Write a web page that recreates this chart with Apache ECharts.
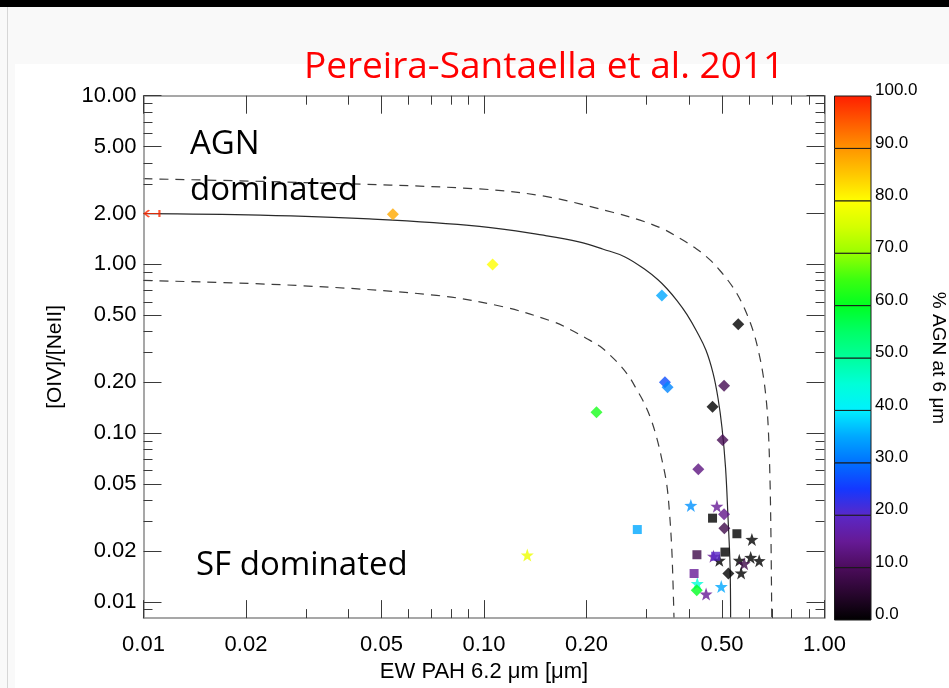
<!DOCTYPE html>
<html>
<head>
<meta charset="utf-8">
<script src="https://cdn.jsdelivr.net/npm/echarts@6/dist/echarts.min.js"></script>
<style>
  html, body { margin: 0; padding: 0; background: #f9f9f9; }
  #chart { width: 949px; height: 688px; }
</style>
</head>
<body>
<div id="chart"></div>
<script>
// Diagnostic diagram: EW of the 6.2 um PAH feature vs [OIV]/[NeII] ratio,
// markers coloured by the AGN contribution at 6 um.

// Diamonds
const diamondEW    = [0.054, 0.106, 0.333, 0.340, 0.346, 0.214, 0.558, 0.507, 0.469, 0.502, 0.426, 0.507, 0.508, 0.522, 0.4215];
const diamondRatio = [1.98,  1.00,  0.655, 0.200, 0.187, 0.133, 0.442, 0.191, 0.143, 0.091, 0.061, 0.033, 0.0273, 0.0147, 0.0117];
const diamondAGN   = [88,    80,    35,    27,    32,    62,    0,     9,     0,     9,     13,    14,    8,      0,      60];

// Squares
const squareEW    = [0.282, 0.469, 0.553, 0.422, 0.479, 0.510, 0.414];
const squareRatio = [0.0268, 0.0313, 0.0253, 0.0190, 0.0186, 0.0197, 0.0147];
const squareAGN   = [35, 0, 0, 8, 20, 0, 15];

// Stars
const starEW    = [0.134, 0.405, 0.483, 0.612, 0.472, 0.491, 0.562, 0.607, 0.643, 0.581, 0.569, 0.423, 0.449, 0.4975];
const starRatio = [0.0189, 0.0372, 0.0368, 0.0234, 0.0186, 0.0176, 0.0176, 0.0183, 0.0175, 0.0168, 0.0148, 0.0128, 0.0111, 0.0123];
const starAGN   = [78, 33, 15, 0, 15, 0, 0, 0, 0, 8, 0, 45, 15, 35];

// Upper limit on the EW (pure AGN)
const limitEW = [0.0111];
const limitRatio = [2.0];

// Mixing line and its +/- envelopes
const mixEW     = [0.010, 0.022, 0.046, 0.097, 0.1528, 0.190, 0.224, 0.2595, 0.300, 0.3243, 0.3447, 0.3688, 0.3947, 0.4216, 0.4487, 0.4706, 0.4866, 0.500, 0.5121, 0.5207, 0.5279, 0.530];
const mixRatio  = [2.00,  1.96,  1.86,  1.68,  1.477,  1.36,  1.23,  1.107,  0.919, 0.810,  0.717,  0.610,  0.504,  0.400,  0.3094, 0.2265, 0.1614, 0.1075, 0.0625, 0.0317, 0.0165, 0.008];
const upperEW    = [0.010, 0.0288, 0.097, 0.153, 0.240, 0.2871, 0.336, 0.379, 0.421, 0.4611, 0.493, 0.5242, 0.5534, 0.584, 0.618, 0.642, 0.661, 0.6757, 0.684, 0.6915, 0.6963, 0.700];
const upperRatio = [3.22,  3.06,   2.80,  2.52,  2.03,  1.829,  1.62,  1.413, 1.234, 1.063,  0.920, 0.789,  0.670,  0.540, 0.400, 0.297, 0.218, 0.1509, 0.105, 0.0545, 0.0242, 0.008];
const lowerEW    = [0.010, 0.0282, 0.0726, 0.114, 0.160, 0.1789, 0.200, 0.2191, 0.2344, 0.2526, 0.2685, 0.2813, 0.2936, 0.3083, 0.3215, 0.333, 0.344, 0.3505, 0.3558, 0.3589, 0.3614];
const lowerRatio = [0.803, 0.750,  0.655,  0.560, 0.457, 0.4114, 0.364, 0.3266, 0.290,  0.249,  0.2117, 0.180,  0.1543, 0.1231, 0.0938, 0.0697, 0.0498, 0.0339, 0.0211, 0.01313, 0.008];

// Axis ticks
const xMajorTicks = [0.01, 0.02, 0.05, 0.1, 0.2, 0.5, 1];
const xMinorTicks = [0.03, 0.04, 0.06, 0.07, 0.08, 0.09, 0.3, 0.4, 0.6, 0.7, 0.8, 0.9];
const yMajorTicks = [0.01, 0.02, 0.05, 0.1, 0.2, 0.5, 1, 2, 5, 10];
const yMinorTicks = [0.009, 0.03, 0.04, 0.06, 0.07, 0.08, 0.09, 0.3, 0.4, 0.6, 0.7, 0.8, 0.9, 3, 4, 6, 7, 8, 9];

// Colour scale, sampled every 5 %
const cbColors = ['#000000', '#28062e', '#4c0c5c', '#661a96', '#5a28c8', '#1438ff', '#0070ff', '#00a8ff',
                  '#00f0ff', '#00ffd8', '#00ff9c', '#00ff66', '#00ff22', '#3cff10', '#98ff00', '#d4ff00',
                  '#ffff00', '#ffc800', '#ff9400', '#ff5a00', '#ff1e00'];
const cbBandsLow  = [0, 10, 20, 30, 40, 50, 60, 70, 80, 90];
const cbBandsHigh = [10, 20, 30, 40, 50, 60, 70, 80, 90, 100];

const zip3 = (a, b, c) => a.map((v, i) => [v, b[i], c[i]]);
const zip2 = (a, b) => a.map((v, i) => [v, b[i]]);

const STAR = 'path://M50,0 L61.8,33.8 L97.6,34.5 L69,56.2 L79.4,90.5 L50,70 L20.6,90.5 L31,56.2 L2.4,34.5 L38.2,33.8 Z';
const LIMIT = 'path://M5,0 L0,5 L5,10 M0,5 L16,5 M16,0 L16,10';

const FONT = '"Liberation Sans", Arial, sans-serif';
const SLIDE_FONT = '"Open Sans", "Noto Sans", sans-serif';
const fmt2 = v => Number(v).toFixed(2);

const frame = { show: true, lineStyle: { color: '#8a8a8a', width: 1.5 } };
const noLine = { show: false };

function logAxis(opts) {
  const base = {
    type: 'log', logBase: 10, gridIndex: 0,
    min: opts.min, max: opts.max, position: opts.position,
    axisLine: opts.line ? frame : noLine,
    axisTick: {
      show: true, inside: true, length: opts.tickLen,
      customValues: opts.ticks,
      lineStyle: { color: '#3a3a3a', width: 1 }
    },
    minorTick: { show: false },
    splitLine: { show: false },
    axisLabel: { show: false },
    z: 3
  };
  if (opts.labels) {
    base.axisLabel = {
      show: true, customValues: opts.ticks, formatter: fmt2,
      color: '#000', fontFamily: FONT, fontSize: 22, margin: opts.margin
    };
  }
  return Object.assign(base, opts.extra || {});
}

const chart = echarts.init(document.getElementById('chart'), null, { renderer: 'canvas' });

const option = {
  backgroundColor: '#f9f9f9',
  animation: false,
  graphic: [
    { type: 'rect', shape: { x: 0, y: 0, width: 949, height: 7 }, style: { fill: '#000' }, z: -10 },
    { type: 'rect', shape: { x: 7, y: 7, width: 1, height: 681 }, style: { fill: '#d6d6d6' }, z: -10 },
    { type: 'rect', shape: { x: 15, y: 64, width: 934, height: 624 }, style: { fill: '#ffffff' }, z: -10 },
    { type: 'text', x: 544, y: 67, z: 10,
      style: { text: 'Pereira-Santaella et al. 2011', fill: '#ff0000', font: '37px ' + SLIDE_FONT,
               textAlign: 'center', textVerticalAlign: 'middle' } },
    { type: 'text', x: 190, y: 145, z: 10,
      style: { text: 'AGN', fill: '#000', font: '33px ' + SLIDE_FONT, textAlign: 'left', textVerticalAlign: 'middle' } },
    { type: 'text', x: 190, y: 191, z: 10,
      style: { text: 'dominated', fill: '#000', font: '33px ' + SLIDE_FONT, textAlign: 'left', textVerticalAlign: 'middle' } },
    { type: 'text', x: 196, y: 566, z: 10,
      style: { text: 'SF dominated', fill: '#000', font: '33px ' + SLIDE_FONT, textAlign: 'left', textVerticalAlign: 'middle' } }
  ],
  grid: [
    { left: 143.5, top: 95.7, width: 681, height: 525, containLabel: false, show: false },
    { left: 834.5, top: 96, width: 38.5, height: 524, containLabel: false, show: false }
  ],
  xAxis: [
    logAxis({ min: 0.01, max: 1, position: 'bottom', line: true, tickLen: 18, ticks: xMajorTicks, labels: true, margin: 16,
      extra: { name: 'EW PAH 6.2 \u03bcm [\u03bcm]', nameLocation: 'middle', nameGap: 36,
               nameTextStyle: { color: '#000', fontFamily: FONT, fontSize: 22 } } }),
    logAxis({ min: 0.01, max: 1, position: 'bottom', line: false, tickLen: 9, ticks: xMinorTicks }),
    logAxis({ min: 0.01, max: 1, position: 'top', line: true, tickLen: 18, ticks: xMajorTicks }),
    logAxis({ min: 0.01, max: 1, position: 'top', line: false, tickLen: 9, ticks: xMinorTicks }),
    { type: 'value', gridIndex: 1, min: 0, max: 1, show: false }
  ],
  yAxis: [
    logAxis({ min: 0.008, max: 10, position: 'left', line: true, tickLen: 18, ticks: yMajorTicks, labels: true, margin: 7,
      extra: { name: '[OIV]/[NeII]', nameLocation: 'middle', nameGap: 78, nameRotate: 90,
               nameTextStyle: { color: '#000', fontFamily: FONT, fontSize: 21 } } }),
    logAxis({ min: 0.008, max: 10, position: 'left', line: false, tickLen: 9, ticks: yMinorTicks }),
    logAxis({ min: 0.008, max: 10, position: 'right', line: true, tickLen: 18, ticks: yMajorTicks }),
    logAxis({ min: 0.008, max: 10, position: 'right', line: false, tickLen: 9, ticks: yMinorTicks }),
    {
      type: 'value', gridIndex: 1, min: 0, max: 100, interval: 10, position: 'right',
      axisLine: { show: false }, axisTick: { show: false }, splitLine: { show: false },
      axisLabel: { show: true, formatter: v => Number(v).toFixed(1), color: '#000', fontFamily: FONT,
                   fontSize: 17, margin: 4, verticalAlign: 'bottom', lineHeight: 11 },
      name: '% AGN at 6 \u03bcm', nameLocation: 'middle', nameRotate: -90, nameGap: 58,
      nameTextStyle: { color: '#000', fontFamily: FONT, fontSize: 19 }
    }
  ],
  visualMap: {
    type: 'continuous', show: false, min: 0, max: 100, dimension: 2,
    seriesIndex: [3, 4, 5],
    inRange: { color: cbColors }
  },
  series: [
    { type: 'line', name: 'upper', xAxisIndex: 0, yAxisIndex: 0, data: zip2(upperEW, upperRatio),
      showSymbol: false, smooth: 0.35, lineStyle: { color: '#3c3c3c', width: 1.2, type: [9, 7] }, z: 2 },
    { type: 'line', name: 'lower', xAxisIndex: 0, yAxisIndex: 0, data: zip2(lowerEW, lowerRatio),
      showSymbol: false, smooth: 0.35, lineStyle: { color: '#3c3c3c', width: 1.2, type: [9, 7] }, z: 2 },
    { type: 'line', name: 'mixing', xAxisIndex: 0, yAxisIndex: 0, data: zip2(mixEW, mixRatio),
      showSymbol: false, smooth: 0.4, lineStyle: { color: '#2a2a2a', width: 1.2 }, z: 2 },
    { type: 'scatter', name: 'stars', xAxisIndex: 0, yAxisIndex: 0, data: zip3(starEW, starRatio, starAGN),
      symbol: STAR, symbolSize: 13, z: 4 },
    { type: 'scatter', name: 'squares', xAxisIndex: 0, yAxisIndex: 0, data: zip3(squareEW, squareRatio, squareAGN),
      symbol: 'rect', symbolSize: 9, z: 5 },
    { type: 'scatter', name: 'diamonds', xAxisIndex: 0, yAxisIndex: 0, data: zip3(diamondEW, diamondRatio, diamondAGN),
      symbol: 'diamond', symbolSize: 12, z: 6 },
    { type: 'scatter', name: 'limit', xAxisIndex: 0, yAxisIndex: 0, data: zip2(limitEW, limitRatio),
      symbol: LIMIT, symbolSize: [15, 7], symbolOffset: [-7, 0],
      itemStyle: { color: 'rgba(0,0,0,0)', borderColor: '#ff2a00', borderWidth: 1.5 }, z: 6 },
    {
      type: 'custom', name: 'colorbar', xAxisIndex: 4, yAxisIndex: 4,
      data: cbBandsLow.map((lo, i) => [lo, cbBandsHigh[i], i]),
      encode: { y: [0, 1] },
      renderItem: function (params, api) {
        const lo = api.value(0), hi = api.value(1), i = api.value(2);
        const p0 = api.coord([0, lo]);
        const p1 = api.coord([1, hi]);
        return {
          type: 'rect',
          shape: { x: p0[0], y: p1[1], width: p1[0] - p0[0], height: p0[1] - p1[1] },
          style: {
            fill: new echarts.graphic.LinearGradient(0, 1, 0, 0, [
              { offset: 0, color: cbColors[2 * i] },
              { offset: 0.5, color: cbColors[2 * i + 1] },
              { offset: 1, color: cbColors[2 * i + 2] }
            ]),
            stroke: '#1a1a1a', lineWidth: 1
          }
        };
      },
      z: 2
    }
  ]
};

chart.setOption(option);
</script>
</body>
</html>
